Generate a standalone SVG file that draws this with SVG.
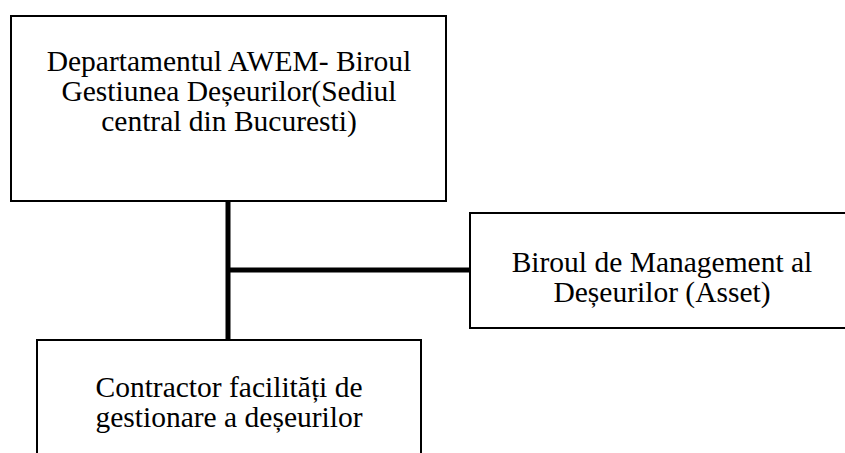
<svg xmlns="http://www.w3.org/2000/svg" width="845" height="453" viewBox="0 0 845 453">
<style>
.box{fill:#fff;stroke:#000;stroke-width:2}
.conn{stroke:#000;stroke-width:5;fill:none}
.t{font-size:29.5px;fill:#000;text-anchor:middle}
</style>
<rect width="845" height="453" fill="#fff"/>
<g id="connectors">
<line class="conn" x1="228" y1="202" x2="228" y2="339"/>
<line class="conn" x1="228" y1="270" x2="469" y2="270"/>
</g>
<g font-family="Liberation Serif, Times New Roman, serif">
<g id="node-awem">
<rect class="box" x="11" y="16" width="435" height="185"/>
<text class="t" x="229" y="71">Departamentul AWEM- Biroul</text>
<text class="t" x="229" y="101">Gestiunea Deșeurilor(Sediul</text>
<text class="t" x="229" y="131">central din Bucuresti)</text>
</g>
<g id="node-asset">
<rect class="box" x="470" y="213" width="400" height="115"/>
<text class="t" x="662" y="272">Biroul de Management al</text>
<text class="t" x="662" y="302">Deșeurilor (Asset)</text>
</g>
<g id="node-contractor">
<rect class="box" x="37" y="340" width="384" height="140"/>
<text class="t" x="229" y="397">Contractor facilități de</text>
<text class="t" x="229" y="427">gestionare a deșeurilor</text>
</g>
</g>
</svg>
